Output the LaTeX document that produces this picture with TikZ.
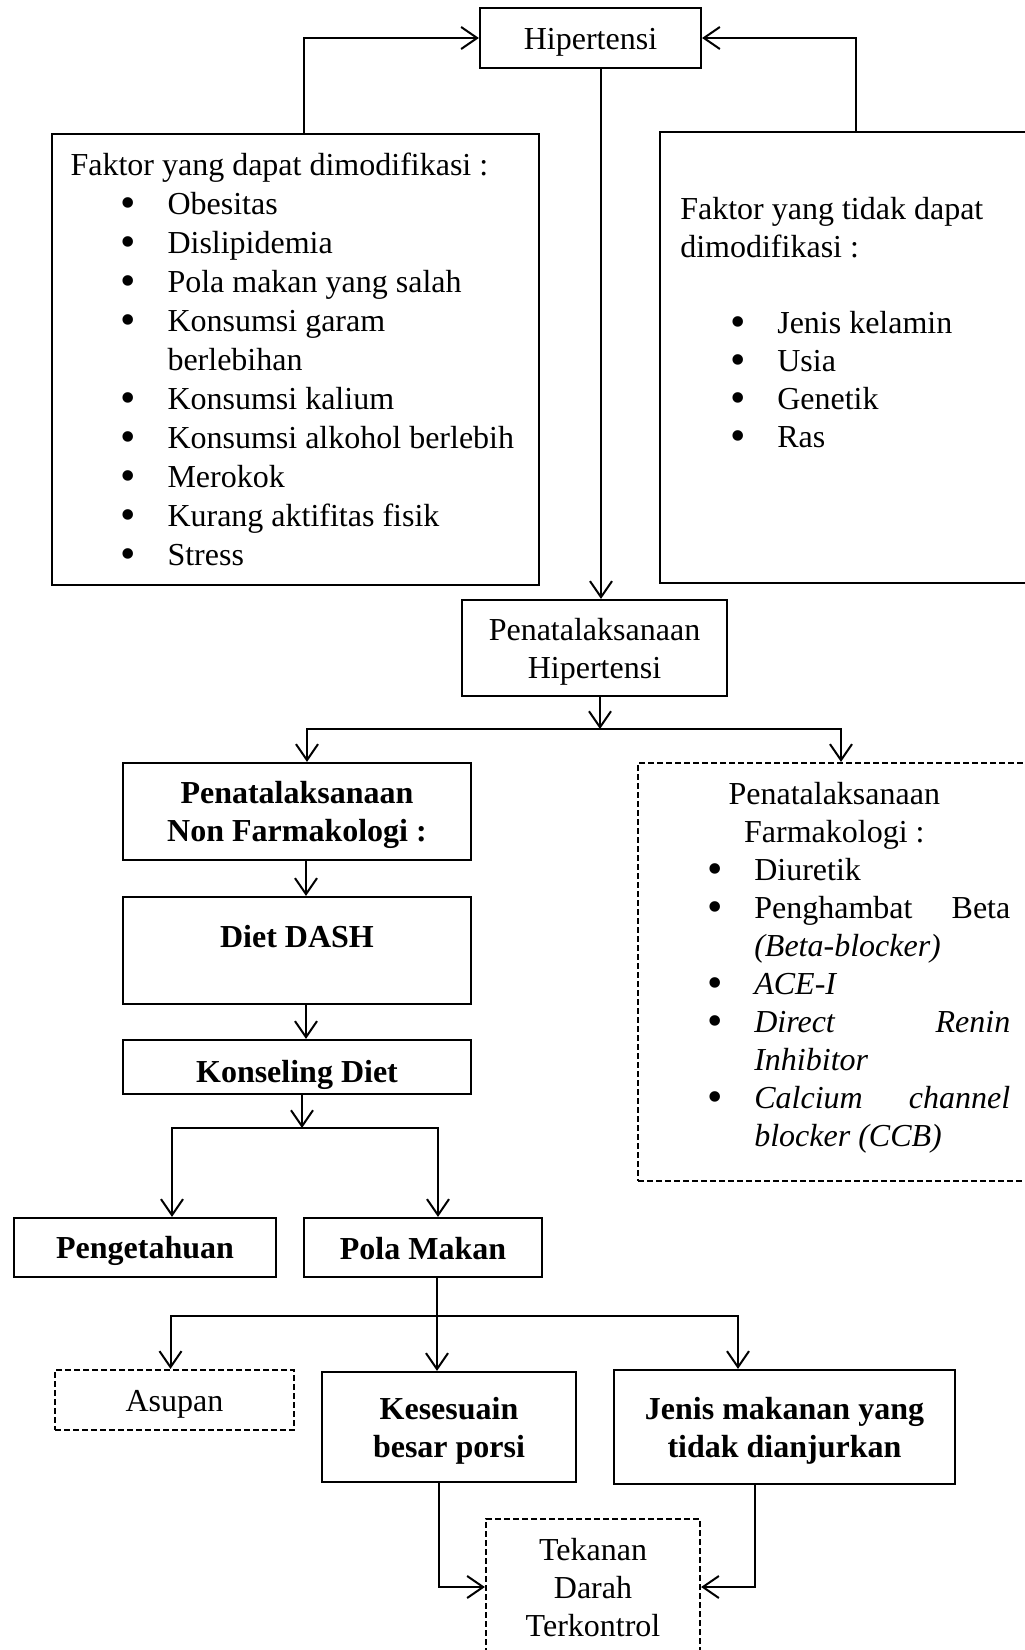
\documentclass[tikz,border=0pt]{standalone}
\usepackage{fontspec}
\setmainfont{Liberation Serif}
\usetikzlibrary{arrows.meta}
\newcommand{\itm}[2][25pt]{\hspace*{#1}\makebox[23.5pt][l]{\smash{\raisebox{-1.3pt}{\fontsize{22}{22}\selectfont\textbullet}}}#2}
\begin{document}
\begin{tikzpicture}[x=0.5pt, y=-0.5pt,
    font=\fontsize{16}{19}\selectfont,
    plain/.style={draw, line width=1.1pt, inner sep=0pt},
    box/.style={plain, align=flush center, execute at begin node={\rule{0pt}{15pt}}},
    dbox/.style={box, dash pattern=on 3pt off 1.5pt},
    low/.style={text depth=-1pt},
    bf/.style={font=\fontsize{16}{19}\selectfont\bfseries},
    arr/.style={line width=1pt, -{Straight Barb[length=8pt,width=11pt]}}]
\useasboundingbox (0,0) rectangle (1024,1650);

\node[box, minimum width=110.5pt, minimum height=30pt] (hip) at (590.5,38) {Hipertensi};
\node[plain, align=flush left, text width=225pt, inner xsep=9.25pt, minimum height=225.5pt,
      font=\fontsize{16}{19.5}\selectfont] (mod) at (295.5,359.5) {Faktor yang dapat dimodifikasi :\\
    \itm{Obesitas}\\
    \itm{Dislipidemia}\\
    \itm{Pola makan yang salah}\\
    \itm{Konsumsi garam}\\
    \hspace*{48.5pt}berlebihan\\
    \itm{Konsumsi kalium}\\
    \itm{Konsumsi alkohol berlebih}\\
    \itm{Merokok}\\
    \itm{Kurang aktifitas fisik}\\
    \itm{Stress}};
\node[plain, minimum width=190pt, minimum height=225.5pt] (nonmod) at (850,357.5) {};
\node[align=flush left, anchor=west, inner sep=0pt] (nonmodtxt) at ([shift={(21,-35)}] nonmod.west) {Faktor yang tidak dapat\\
    dimodifikasi :\\[19pt]
    \itm{Jenis kelamin}\\
    \itm{Usia}\\
    \itm{Genetik}\\
    \itm{Ras}};

\node[box, low, minimum width=132.5pt, minimum height=48pt] (pen) at (594.5,648) {Penatalaksanaan\\ Hipertensi};
\node[box, bf, low, minimum width=174pt, minimum height=48.5pt] (nonfar) at (297,811.5) {Penatalaksanaan\\ Non Farmakologi :};
\node[dbox, minimum width=201pt, minimum height=209pt] (far) at (839,972) {};
\node[align=flush left, text width=151.5pt, anchor=west, inner sep=0pt] (fartxt) at ([shift={(70,-4)}] far.west) {\makebox[127pt]{Penatalaksanaan}\\
    \makebox[127pt]{Farmakologi :}\\
    \itm[0pt]{Diuretik}\\
    \itm[0pt]{Penghambat\hfill Beta}\\
    \hspace*{23.5pt}\textit{(Beta-blocker)}\\
    \itm[0pt]{\textit{ACE-I}}\\
    \itm[0pt]{\textit{Direct}\hfill\textit{Renin}}\\
    \hspace*{23.5pt}\textit{Inhibitor}\\
    \itm[0pt]{\textit{Calcium}\hfill\textit{channel}}\\
    \hspace*{23.5pt}\textit{blocker (CCB)}};

\node[plain, minimum width=174pt, minimum height=53.5pt] (dash) at (297,950.5) {};
\node[bf] (dashtxt) at ([shift={(0,-14)}] dash.center) {Diet DASH};
\node[box, bf, low, minimum width=174pt, minimum height=27pt] (kons) at (297,1067) {Konseling Diet};
\node[box, bf, minimum width=131pt, minimum height=29.5pt] (peng) at (145,1247.5) {Pengetahuan};
\node[box, bf, text depth=3pt, minimum width=119pt, minimum height=29.5pt] (pola) at (423,1247.5) {Pola Makan};
\node[dbox, minimum width=119.5pt, minimum height=30pt] (asup) at (174.5,1400) {Asupan};
\node[box, bf, low, minimum width=127pt, minimum height=55pt] (kes) at (449,1427) {Kesesuain\\ besar porsi};
\node[box, bf, low, minimum width=170.5pt, minimum height=57pt] (jenis) at (784.5,1427) {Jenis makanan yang\\ tidak dianjurkan};
\node[dbox, text depth=-2pt, minimum width=107pt, minimum height=68pt] (tek) at (593,1587) {Tekanan\\ Darah\\ Terkontrol};

\draw[arr] ([xshift=4.25pt] mod.north) |- (hip.west);
\draw[arr] ([xshift=3pt] nonmod.north) |- (hip.east);
\draw[arr] ([xshift=5.25pt] hip.south) -- ([xshift=5.25pt] hip.south |- pen.north);
\coordinate (b1) at (600,729);
\draw[arr] (pen.south -| b1) -- (b1);
\draw[arr] (b1) -| ([xshift=5pt] nonfar.north);
\draw[arr] (b1) -| ([xshift=1pt] far.north);
\draw[arr] ([xshift=4.5pt] nonfar.south) -- ([xshift=4.5pt] dash.north);
\draw[arr] ([xshift=4.5pt] dash.south) -- ([xshift=4.5pt] kons.north);
\coordinate (b2) at (302,1128);
\draw[arr] (kons.south -| b2) -- (b2);
\draw[arr] (b2) -| ([xshift=13.5pt] peng.north);
\draw[arr] (b2) -| ([xshift=7.5pt] pola.north);
\coordinate (b3) at (437,1316);
\draw[line width=1pt] (pola.south -| b3) -- (b3);
\draw[arr] (b3) -| ([xshift=-2pt] asup.north);
\draw[arr] (b3) -- (b3 |- kes.north);
\draw[arr] (b3) -| ([xshift=-23.25pt] jenis.north);
\draw[arr] ([xshift=-5pt] kes.south) |- (tek.west);
\draw[arr] ([xshift=-14.75pt] jenis.south) |- (tek.east);
\end{tikzpicture}
\end{document}
